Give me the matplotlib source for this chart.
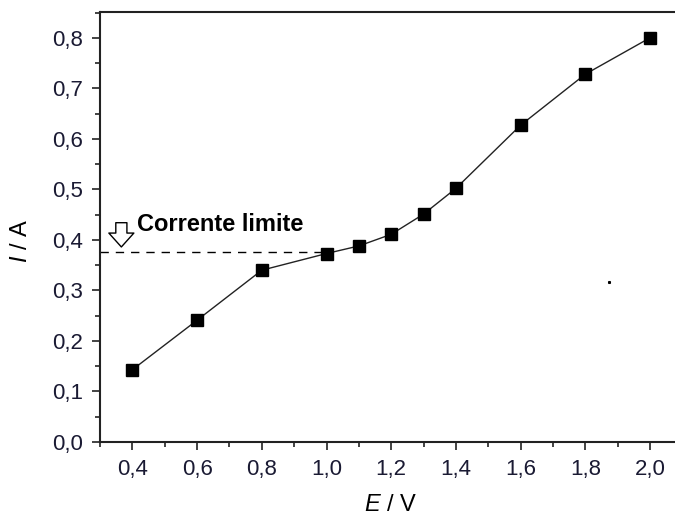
import numpy as np
import matplotlib
matplotlib.use("Agg")
import matplotlib.pyplot as plt
from matplotlib.ticker import MultipleLocator, FuncFormatter


# -----------------------------
# Data
# -----------------------------
E_volts = [0.4, 0.6, 0.8, 1.0, 1.1, 1.2, 1.3, 1.4, 1.6, 1.8, 2.0]
I_amps = [0.143, 0.241, 0.340, 0.373, 0.388, 0.411, 0.451, 0.502, 0.627, 0.728, 0.800]

limit_current = 0.376
limit_x = [0.3, 1.0]
arrow_x = 0.366
arrow_top, arrow_tip = 0.434, 0.386
stray_dot = (1.874, 0.317)


plt.rcParams["font.family"] = ["Liberation Sans", "DejaVu Sans"]
plt.rcParams["mathtext.fontset"] = "custom"
plt.rcParams["mathtext.rm"] = "Liberation Sans"
plt.rcParams["mathtext.it"] = "Liberation Sans:italic"


def comma_fmt(decimals):
    return FuncFormatter(lambda v, pos: f"{v:.{decimals}f}".replace(".", ","))


fig = plt.figure(figsize=(6.75, 5.15), dpi=100)
ax = fig.add_axes([100 / 675, 1 - 442 / 515, 575 / 675, 430 / 515])

ax.plot(E_volts, I_amps, color="#222222", lw=1.0, marker="s", markersize=8,
        markerfacecolor="black", markeredgecolor="black", zorder=3)

# limiting-current guide + hollow arrow
ax.plot(limit_x, [limit_current, limit_current], color="black", lw=1.0,
        dashes=(6, 5), zorder=2)
ax.annotate("", xy=(arrow_x, arrow_tip), xytext=(arrow_x, arrow_top),
            arrowprops=dict(arrowstyle="simple,head_length=0.5,head_width=0.9,tail_width=0.4",
                            fc="white", ec="black", lw=1.0, shrinkA=0, shrinkB=0,
                            mutation_scale=20))
ax.text(0.415, 0.431, "Corrente limite", fontsize=17, fontweight="bold",
        ha="left", va="center")

ax.plot(*stray_dot, marker="s", markersize=1.2, color="black", lw=0)

ax.set_xlim(0.3, 2.077)
ax.set_ylim(0.0, 0.851)

ax.xaxis.set_major_locator(MultipleLocator(0.2))
ax.xaxis.set_minor_locator(MultipleLocator(0.1))
ax.yaxis.set_major_locator(MultipleLocator(0.1))
ax.yaxis.set_minor_locator(MultipleLocator(0.05))
ax.xaxis.set_major_formatter(comma_fmt(1))
ax.yaxis.set_major_formatter(comma_fmt(1))
ax.set_xticks([0.4, 0.6, 0.8, 1.0, 1.2, 1.4, 1.6, 1.8, 2.0])

ax.tick_params(which="major", direction="out", length=6, width=1.2,
               labelsize=16, pad=6, colors="#222222", labelcolor="#1a1a33")
ax.tick_params(which="minor", direction="out", length=3.5, width=1.2,
               colors="#222222")
ax.tick_params(top=False, right=False)

for side in ["left", "bottom", "top"]:
    ax.spines[side].set_linewidth(1.5)
    ax.spines[side].set_color("#222222")
ax.spines["right"].set_visible(False)

ax.set_xlabel(r"$E$ / V", fontsize=17)
ax.set_ylabel(r"$I$ / A", fontsize=17)
ax.xaxis.set_label_coords(0.506, -0.12)
ax.yaxis.set_label_coords(-0.118, 0.467)

fig.savefig("out.png", dpi=100)
